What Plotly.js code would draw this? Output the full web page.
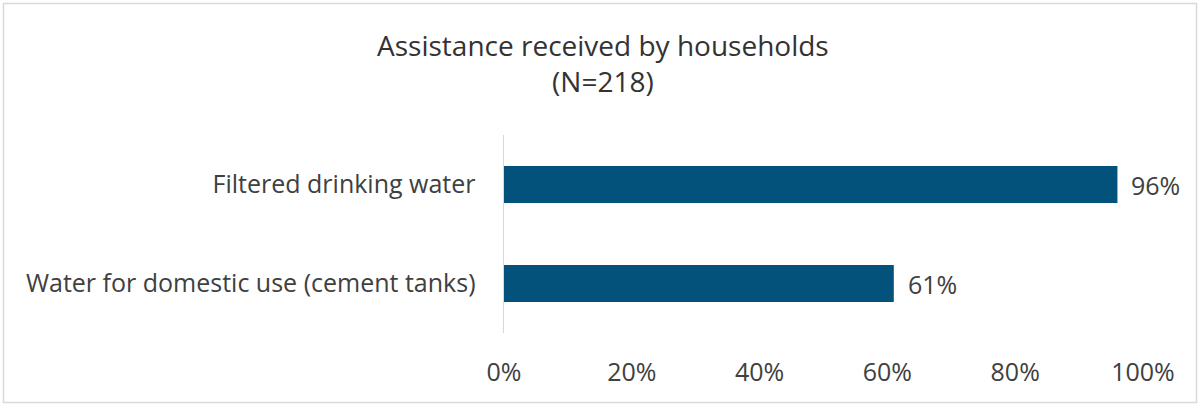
<!DOCTYPE html>
<html>
<head>
<meta charset="utf-8">
<script src="https://cdn.plot.ly/plotly-3.0.1.min.js"></script>
<style>
html,body{margin:0;padding:0;background:#fff;}
#chart{width:1201px;height:406px;}
</style>
</head>
<body>
<div id="chart"></div>
<script>
const categories = ['Water for domestic use (cement tanks)', 'Filtered drinking water'];
const values = [61, 96];
const tickValues = [0, 20, 40, 60, 80, 100];
const tickLabels = ['0%', '20%', '40%', '60%', '80%', '100%'];
const titleText = 'Assistance received by households<br>(N=218)';

const FONT = '"Open Sans", "Noto Sans", sans-serif';
const textColor = '#404040';

const trace = {
  type: 'bar',
  orientation: 'h',
  x: values,
  y: categories,
  width: 0.374,
  marker: {color: '#02527C', line: {width: 0}},
  hoverinfo: 'skip'
};

const annotations = values.map((v, i) => ({
  x: v, y: categories[i], xref: 'x', yref: 'y',
  text: v + '%', showarrow: false, xanchor: 'left', xshift: 12,
  font: {family: FONT, size: 25, color: textColor}
}));

const layout = {
  width: 1201, height: 406,
  margin: {l: 504, r: 58, t: 135, b: 73, pad: 0},
  paper_bgcolor: '#ffffff', plot_bgcolor: '#ffffff',
  showlegend: false,
  title: {
    text: titleText,
    x: 0.502, xanchor: 'center', xref: 'container',
    y: 1 - 56/406, yanchor: 'middle', yref: 'container',
    font: {family: FONT, size: 28, color: '#333333'}
  },
  xaxis: {
    range: [0, 100], tickvals: tickValues, ticktext: tickLabels,
    showgrid: false, zeroline: false, showline: false, ticks: '',
    ticklabelstandoff: 22,
    tickfont: {family: FONT, size: 25, color: textColor},
    fixedrange: true
  },
  yaxis: {
    categoryorder: 'array', categoryarray: categories,
    showgrid: false, zeroline: false, showline: true,
    linecolor: '#d9d9d9', linewidth: 1.5, ticks: '',
    ticklabelstandoff: 22,
    tickfont: {family: FONT, size: 25, color: textColor},
    fixedrange: true
  },
  annotations: annotations,
  shapes: [{
    type: 'rect', xref: 'paper', yref: 'paper',
    x0: (3.5 - 504)/639, x1: (1196.5 - 504)/639,
    y0: (333 - 402.5)/198, y1: (333 - 3.5)/198,
    line: {color: '#d9d9d9', width: 1.5}, fillcolor: 'rgba(0,0,0,0)', layer: 'below'
  }]
};

Plotly.newPlot('chart', [trace], layout, {displayModeBar: false, staticPlot: true});
</script>
</body>
</html>
